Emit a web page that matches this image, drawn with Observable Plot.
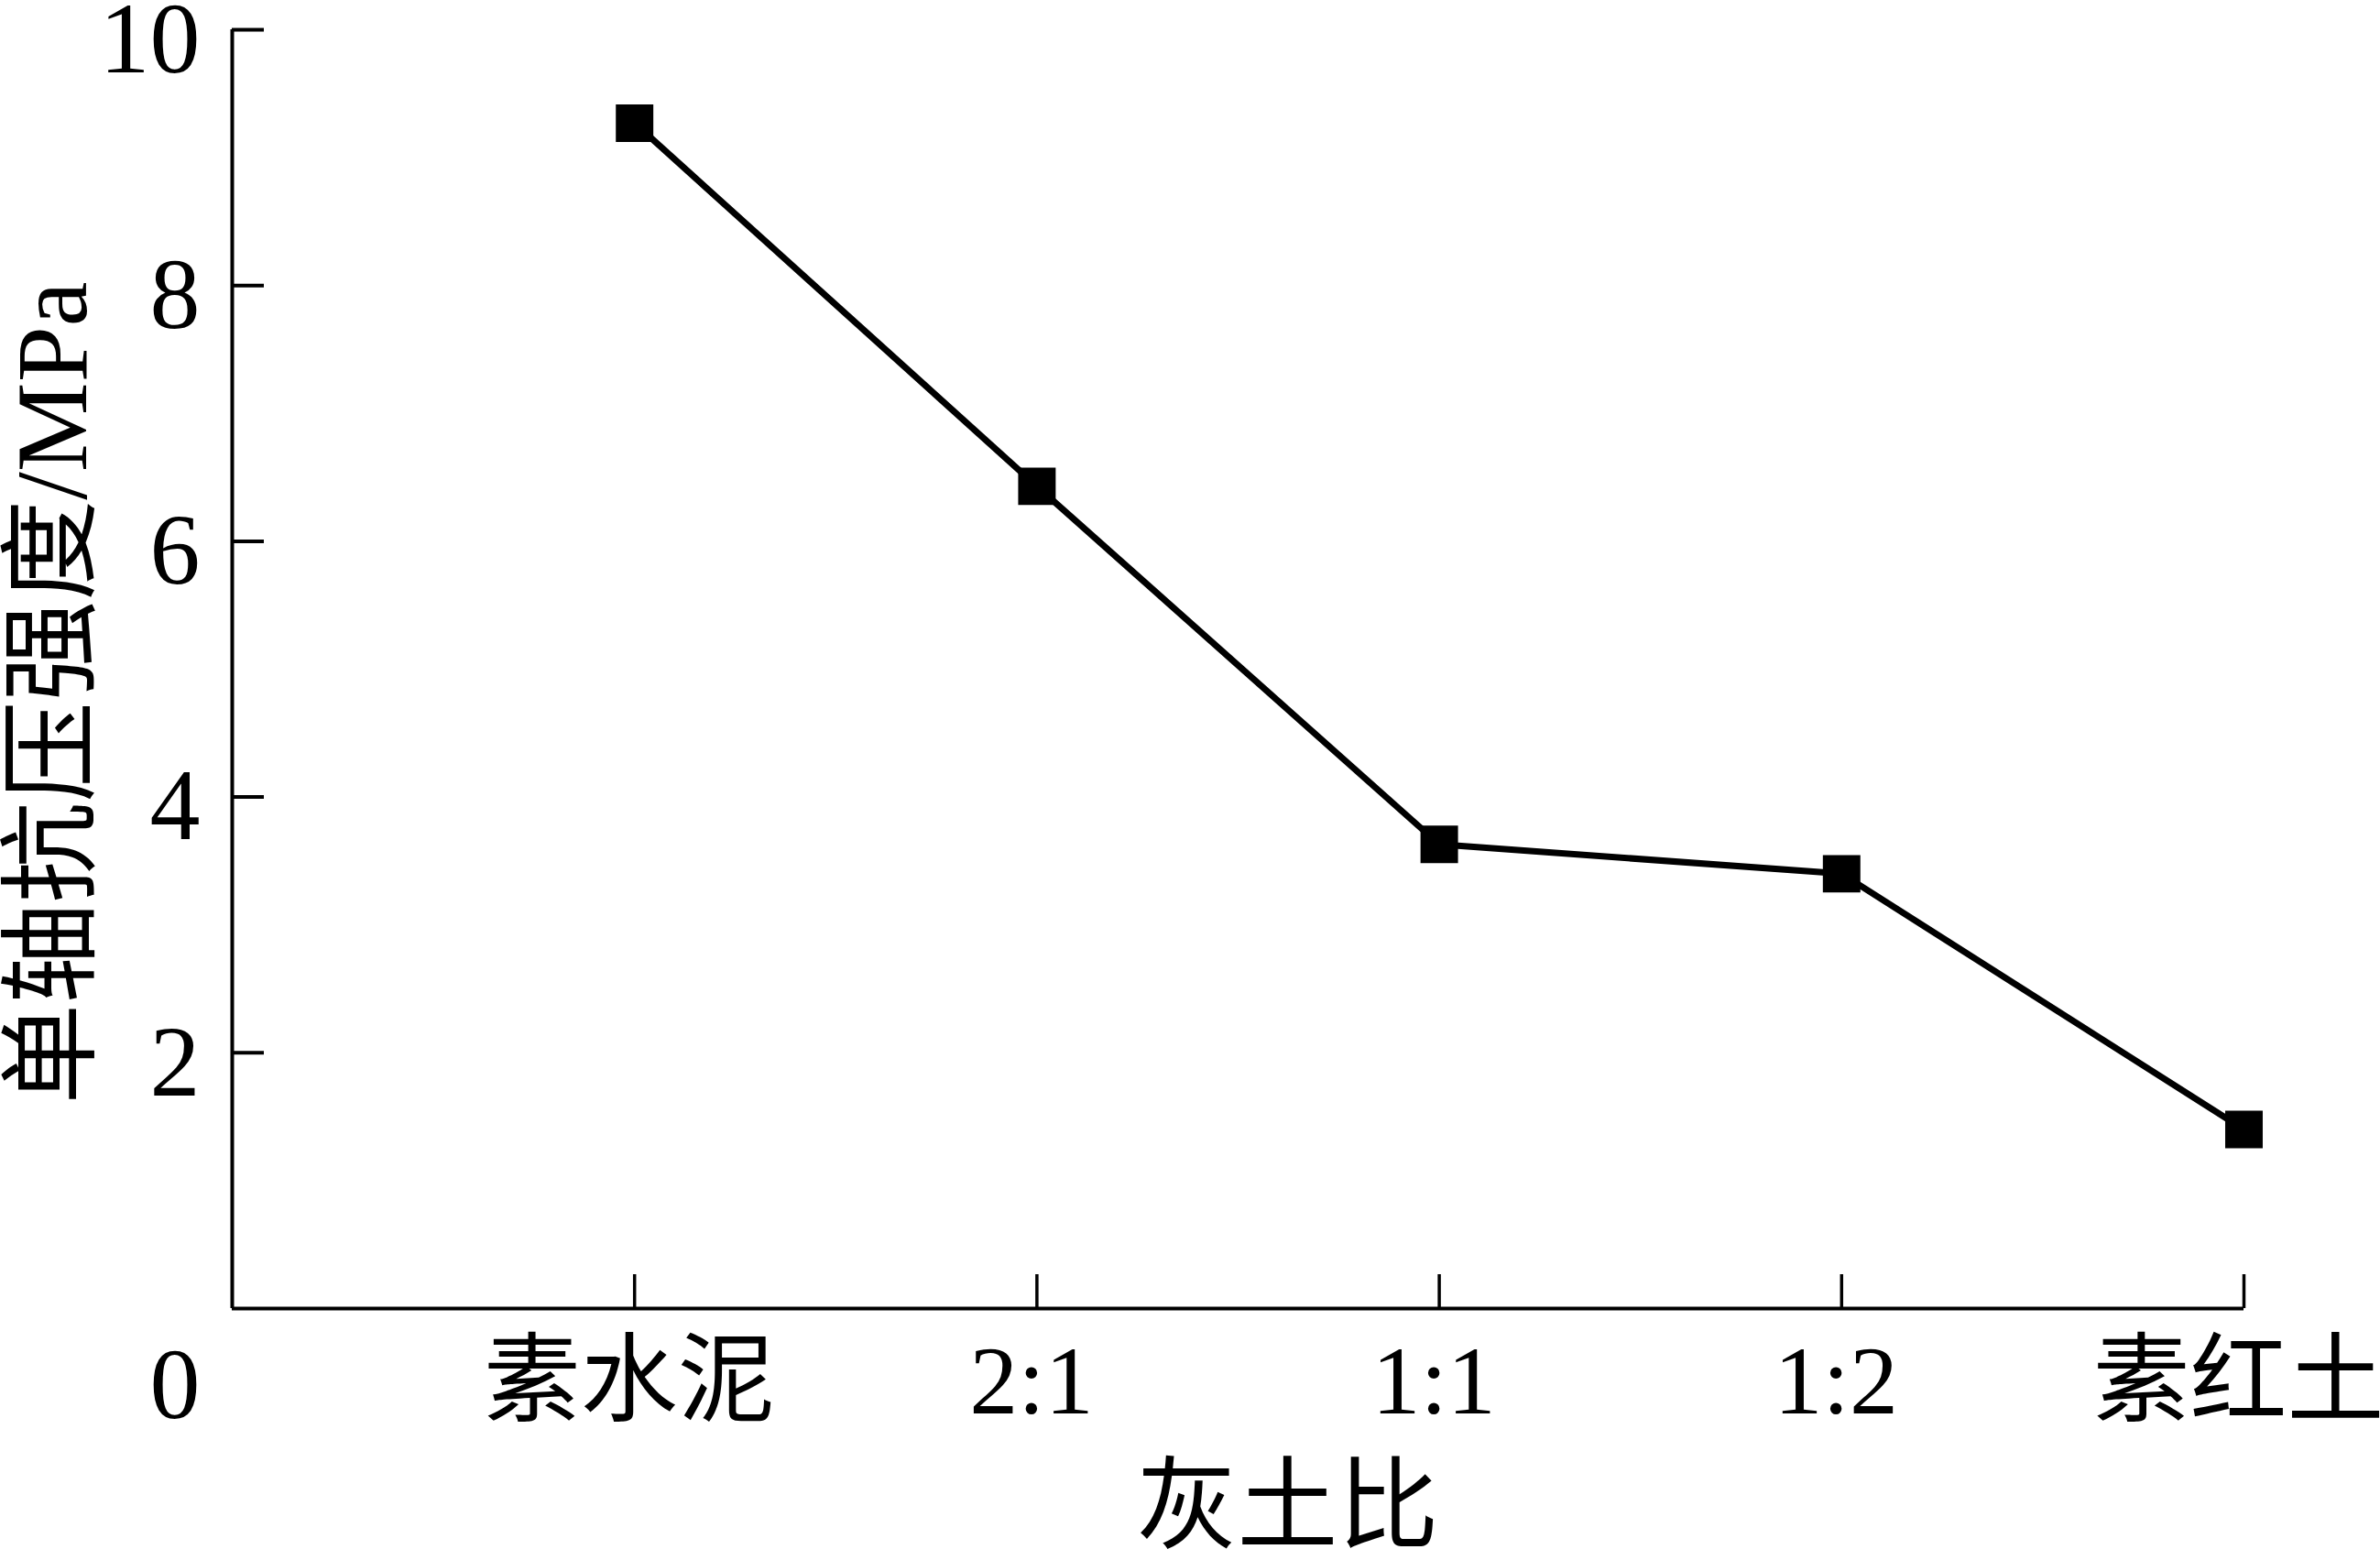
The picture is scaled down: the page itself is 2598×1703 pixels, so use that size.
<!DOCTYPE html>
<html>
<head>
<meta charset="utf-8">
<script src="https://cdn.jsdelivr.net/npm/d3@7"></script>
<script src="https://cdn.jsdelivr.net/npm/@observablehq/plot@0.6"></script>
<style>
  html, body { margin: 0; padding: 0; background: #fff; }
  #chart svg { display: block; overflow: visible; }
</style>
</head>
<body>
<div id="chart"></div>
<script>
// Data
const categories = ["素水泥", "2:1", "1:1", "1:2", "素红土"];
const strength = [9.27, 6.43, 3.63, 3.40, 1.40];
const yTicks = [2, 4, 6, 8, 10];
const zeroLabel = ["0"];
const xLabel = ["灰土比"];
const yLabel = ["单轴抗压强度/MPa"];

const rows = categories.map((c, i) => ({idx: i + 1, cat: c, v: strength[i]}));
const idxTicks = categories.map((c, i) => i + 1);

const FONT = '"Liberation Serif", "Times New Roman", "Noto Sans CJK SC", serif';
const FS = 110;

const chart = Plot.plot({
  width: 2598,
  height: 1703,
  marginLeft: 253,
  marginRight: 149,
  marginTop: 32,
  marginBottom: 275,
  style: {fontFamily: FONT, fontSize: FS + "px", color: "#000", background: "#fff"},
  x: {type: "linear", domain: [0, 5]},
  y: {type: "linear", domain: [0, 10]},
  marks: [
    // axis lines
    Plot.ruleY([0], {stroke: "#000", strokeWidth: 4}),
    Plot.ruleX([0], {stroke: "#000", strokeWidth: 4}),
    // y axis: inward ticks
    Plot.axisY({ticks: yTicks, anchor: "left", tickSize: 35, dx: 35, text: null,
      strokeWidth: 4, label: null}),
    // y axis labels
    Plot.axisY({ticks: yTicks, anchor: "left", tickSize: 0, tickPadding: 35, dy: 11,
      fontSize: FS, label: null, tickFormat: d => String(d)}),
    // x axis: inward ticks
    Plot.axisX({ticks: idxTicks, anchor: "bottom", tickSize: 37, dy: -37, text: null,
      strokeWidth: 3.5, label: null}),
    // x axis labels
    Plot.axisX({ticks: idxTicks, anchor: "bottom", tickSize: 0, tickPadding: 39, dx: -6,
      fontSize: 106, label: null, tickFormat: i => categories[i - 1]}),
    // corner zero label
    Plot.text(zeroLabel, {x: 0, y: 0, text: d => d, dx: -35, dy: 84, textAnchor: "end",
      lineAnchor: "middle", fontSize: FS}),
    // axis titles
    Plot.text(xLabel, {frameAnchor: "bottom", text: d => d, dx: 54, dy: 218,
      textAnchor: "middle", lineAnchor: "middle", fontSize: FS}),
    Plot.text(yLabel, {frameAnchor: "left", text: d => d, rotate: -90, dx: -195, dy: 26,
      textAnchor: "middle", lineAnchor: "middle", fontSize: FS}),
    // data
    Plot.line(rows, {x: "idx", y: "v", stroke: "#000", strokeWidth: 7}),
    Plot.dot(rows, {x: "idx", y: "v", symbol: "square", r: 23.1, fill: "#000", stroke: "none"})
  ]
});
document.getElementById("chart").appendChild(chart);
</script>
</body>
</html>
